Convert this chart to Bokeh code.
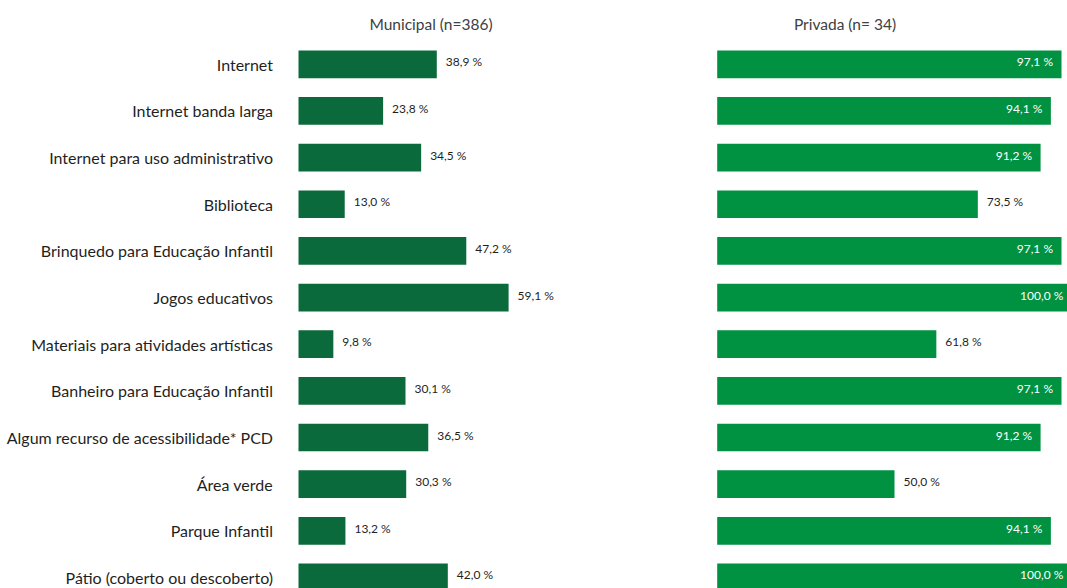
from bokeh.plotting import figure
from bokeh.layouts import row
from bokeh.models import Range1d, ColumnDataSource
from bokeh.core.properties import value
from bokeh.embed import file_html
from bokeh.resources import INLINE

categories = ["Internet", "Internet banda larga", "Internet para uso administrativo",
              "Biblioteca", "Brinquedo para Educação Infantil", "Jogos educativos",
              "Materiais para atividades artísticas", "Banheiro para Educação Infantil",
              "Algum recurso de acessibilidade* PCD", "Área verde", "Parque Infantil",
              "Pátio (coberto ou descoberto)"]
municipal = [38.9, 23.8, 34.5, 13.0, 47.2, 59.1, 9.8, 30.1, 36.5, 30.3, 13.2, 42.0]
privada = [97.1, 94.1, 91.2, 73.5, 97.1, 100.0, 61.8, 97.1, 91.2, 50.0, 94.1, 100.0]
title_municipal = "Municipal (n=386)"
title_privada = "Privada (n= 34)"

FONT = value("Lato")
DARK = "#0B6A3B"
LIGHT = "#009240"
TXT = "#1F1F1F"
H = 588

ROW0 = 63.8      # px centre of first row
ROW_PX = 46.65   # px between rows
y_top = (0 - ROW0) / ROW_PX
y_bot = (H - ROW0) / ROW_PX
title_y = (23 - ROW0) / ROW_PX


def fmt(v):
    return f"{v:.1f}".replace(".", ",") + " %"


def make_fig(width, x0_px, scale):
    start = -x0_px / scale
    end = (width - x0_px) / scale
    p = figure(width=width, height=H, x_range=Range1d(start, end),
               y_range=Range1d(start=y_bot, end=y_top),
               output_backend="svg", toolbar_location=None,
               x_axis_location=None, y_axis_location=None)
    p.min_border = 0
    p.min_border_left = 0
    p.min_border_right = 0
    p.min_border_top = 0
    p.min_border_bottom = 0
    p.outline_line_color = None
    p.xgrid.visible = False
    p.ygrid.visible = False
    p.background_fill_color = "white"
    p.border_fill_color = "white"
    return p


idx = list(range(len(categories)))

# ---- left: Municipal ----
scale_l = 3.555
x0_l = 298
p1 = make_fig(690, x0_l, scale_l)
src1 = ColumnDataSource(dict(y=idx, v=municipal, cat=categories,
                             lab=[fmt(v) for v in municipal],
                             zero=[0] * len(idx)))
p1.hbar(y="y", left=0, right="v", height=0.594, source=src1,
        fill_color=DARK, line_color=None)
p1.text(x="zero", y="y", text="cat", source=src1, x_offset=-25.5, y_offset=0,
        text_align="right", text_baseline="middle", text_font=FONT,
        text_font_size="16px", text_color=TXT)
p1.text(x="v", y="y", text="lab", source=src1, x_offset=9, y_offset=-2.5,
        text_align="left", text_baseline="middle", text_font=FONT,
        text_font_size="12px", text_color=TXT)
p1.text(x=[(430.5 - x0_l) / scale_l], y=[title_y], text=[title_municipal],
        text_align="center", text_baseline="middle", text_font=FONT,
        text_font_size="15.5px", text_color="#404040")

# ---- right: Privada ----
scale_r = 3.546
x0_r = 716.7 - 690
p2 = make_fig(377, x0_r, scale_r)
inside = [v >= 85 for v in privada]
src_in = ColumnDataSource(dict(
    y=[i for i, f in zip(idx, inside) if f],
    v=[v for v, f in zip(privada, inside) if f],
    lab=[fmt(v) for v, f in zip(privada, inside) if f]))
src_out = ColumnDataSource(dict(
    y=[i for i, f in zip(idx, inside) if not f],
    v=[v for v, f in zip(privada, inside) if not f],
    lab=[fmt(v) for v, f in zip(privada, inside) if not f]))
src2 = ColumnDataSource(dict(y=idx, v=privada))
p2.hbar(y="y", left=0, right="v", height=0.594, source=src2,
        fill_color=LIGHT, line_color=None)
p2.text(x="v", y="y", text="lab", source=src_in, x_offset=-8.5, y_offset=-2.5,
        text_align="right", text_baseline="middle", text_font=FONT,
        text_font_size="12px", text_color="white")
p2.text(x="v", y="y", text="lab", source=src_out, x_offset=9, y_offset=-2.5,
        text_align="left", text_baseline="middle", text_font=FONT,
        text_font_size="12px", text_color=TXT)
p2.text(x=[(844.5 - 716.7) / scale_r], y=[title_y], text=[title_privada],
        text_align="center", text_baseline="middle", text_font=FONT,
        text_font_size="15.5px", text_color="#404040")

layout = row(p1, p2)
open("out.html", "w").write(file_html(layout, INLINE))
